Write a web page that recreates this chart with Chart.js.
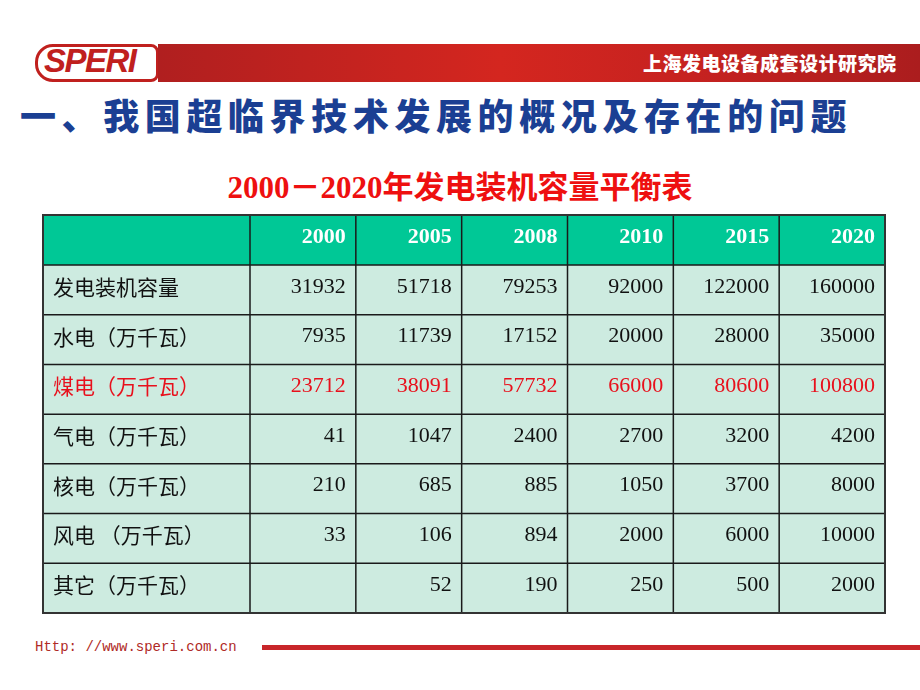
<!DOCTYPE html>
<html>
<head>
<meta charset="utf-8">
<script src="https://cdn.jsdelivr.net/npm/chart.js@4.4.1/dist/chart.umd.min.js"></script>
<style>
body{margin:0;width:920px;height:690px;background:#fff;position:relative;overflow:hidden;font-family:"Noto Sans CJK SC",sans-serif}
#logo{position:absolute;left:35px;top:44px;width:118px;height:32px;border:3px solid #c0201e;border-radius:18px 8px 8px 18px;background:#fff}
#logo span{position:absolute;left:6px;top:-5px;font:italic 900 33px "Liberation Sans",Arial,sans-serif;color:#c0201e;letter-spacing:-1.5px}
#red_bar{position:absolute;left:158px;top:44px;width:762px;height:38px;background:linear-gradient(90deg,#b01f1f 0%,#d4261f 45%,#c62220 70%,#ab1d1e 100%)}
#company{position:absolute;left:643px;top:49px;font-size:19px;font-weight:900;color:#fff;letter-spacing:0.5px}
#title{position:absolute;left:20px;top:88px;font-size:36px;font-weight:900;color:#1b3f93;letter-spacing:5.6px;white-space:nowrap}
#subtitle{position:absolute;left:0;width:920px;top:162px;text-align:center;font:bold 31px "Liberation Serif","Noto Sans CJK SC",serif;color:#ee1010}
#table_box{position:absolute;left:42px;top:214px}
#footer_text{position:absolute;left:35px;top:639px;font:14px "Liberation Mono",monospace;color:#b02a26}
#footer_line{position:absolute;left:262px;top:645px;width:658px;height:5px;background:#c8262a}
</style>
</head>
<body>
<div id="logo"><span>SPERI</span></div>
<div id="red_bar"></div>
<div id="company">上海发电设备成套设计研究院</div>
<div id="title">一、我国超临界技术发展的概况及存在的问题</div>
<div id="subtitle">2000－2020年发电装机容量平衡表</div>
<div id="table_box"><canvas id="cap_table" width="845" height="401"></canvas></div>
<div id="footer_text">Http: //www.speri.com.cn</div>
<div id="footer_line"></div>
<script>
//table data
var years = ['2000','2005','2008','2010','2015','2020']
var row_names = ['发电装机容量','水电（万千瓦）','煤电（万千瓦）','气电（万千瓦）','核电（万千瓦）','风电 （万千瓦）','其它（万千瓦）']
var total_cap = [31932,51718,79253,92000,122000,160000]
var hydro = [7935,11739,17152,20000,28000,35000]
var coal = [23712,38091,57732,66000,80600,100800]
var gas = [41,1047,2400,2700,3200,4200]
var nuclear = [210,685,885,1050,3700,8000]
var wind = [33,106,894,2000,6000,10000]
var other = [null,52,190,250,500,2000]

var row_values = [total_cap,hydro,coal,gas,nuclear,wind,other]
var red_row = 2

var header_color = '#00c896'
var body_color = '#cdebe0'
var red_text = '#e8101c'

function makeDatasets(){
    return row_values.map(function(values,r){
        return {
            label: row_names[r],
            data: years.map(function(year,i){
                return {x: year, y: row_names[r], v: values[i]}
            }),
            pointRadius: 0
        }
    })
}

// draws cells, grid and text from the scale positions
var tableCells = {
    id: 'tableCells',
    beforeDatasetsDraw: function(chart){
        var ctx = chart.ctx
        var area = chart.chartArea
        var x_scale = chart.scales.x
        var y_scale = chart.scales.y
        var col_w = (area.right - area.left) / years.length
        var row_h = (area.bottom - area.top) / row_names.length
        var left = 1, top = 1

        ctx.save()
        ctx.fillStyle = header_color
        ctx.fillRect(left, top, area.right - left, area.top - top)
        ctx.fillStyle = body_color
        ctx.fillRect(left, area.top, area.right - left, area.bottom - area.top)

        // grid lines
        ctx.strokeStyle = '#1a1a1a'
        ctx.lineWidth = 1.5
        ctx.beginPath()
        ctx.moveTo(area.left, top); ctx.lineTo(area.left, area.bottom)
        for(let i=0;i<years.length;i++){
            let xr = x_scale.getPixelForValue(i) + col_w/2
            ctx.moveTo(xr, top); ctx.lineTo(xr, area.bottom)
        }
        ctx.moveTo(left, area.top); ctx.lineTo(area.right, area.top)
        for(let j=0;j<row_names.length;j++){
            let yb = y_scale.getPixelForValue(j) + row_h/2
            ctx.moveTo(left, yb); ctx.lineTo(area.right, yb)
        }
        ctx.stroke()
        ctx.strokeStyle = '#333'
        ctx.lineWidth = 2
        ctx.strokeRect(left, top, area.right - left, area.bottom - top)

        // header
        ctx.fillStyle = '#fff'
        ctx.font = "bold 22px 'Liberation Serif'"
        ctx.textAlign = 'right'
        ctx.textBaseline = 'middle'
        for(let i=0;i<years.length;i++){
            ctx.fillText(years[i], x_scale.getPixelForValue(i) + col_w/2 - 10, (top + area.top)/2 - 3)
        }

        // row labels
        ctx.textAlign = 'left'
        ctx.font = "21px 'Noto Sans CJK SC'"
        for(let j=0;j<row_names.length;j++){
            ctx.fillStyle = (j == red_row) ? red_text : '#111'
            ctx.fillText(row_names[j], left + 10, y_scale.getPixelForValue(j) - 3)
        }

        // values
        ctx.textAlign = 'right'
        ctx.font = "22px 'Liberation Serif'"
        chart.data.datasets.forEach(function(ds,r){
            var meta = chart.getDatasetMeta(r)
            ctx.fillStyle = (r == red_row) ? red_text : '#111'
            meta.data.forEach(function(pt,i){
                var v = ds.data[i].v
                if(v == null) return
                ctx.fillText(String(v), pt.x + col_w/2 - 10, pt.y - 3)
            })
        })
        ctx.restore()
    }
}

var chart = new Chart(document.getElementById('cap_table'),{
    type: 'scatter',
    data: {datasets: makeDatasets()},
    options: {
        responsive: false,
        animation: false,
        devicePixelRatio: 1,
        layout: {padding: {left: 208, top: 51, right: 2, bottom: 2}},
        plugins: {legend: {display: false}, tooltip: {enabled: false}},
        scales: {
            x: {type: 'category', labels: years, offset: true, display: false},
            y: {type: 'category', labels: row_names, offset: true, display: false}
        }
    },
    plugins: [tableCells]
})
</script>
</body>
</html>
